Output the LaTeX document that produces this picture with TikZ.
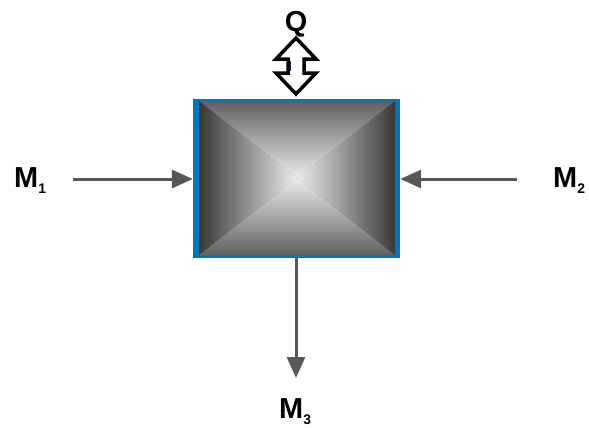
\documentclass[tikz,border=0pt]{standalone}
\usepackage{fontspec}
\setmainfont{Liberation Sans}
\usetikzlibrary{arrows.meta}

\definecolor{flowgray}{RGB}{88,88,88}
\definecolor{wallblue}{RGB}{0,118,192}
\definecolor{darkedge}{RGB}{58,56,55}
\definecolor{midtone}{RGB}{118,118,118}
\definecolor{lightcore}{RGB}{236,236,236}

\tikzset{
  flow/.style={draw=flowgray, line width=3bp, -{Triangle[length=21bp,width=18bp]}},
  streamlabel/.style={font=\fontsize{29}{30}\selectfont\bfseries, inner sep=0pt, anchor=base west},
}
\newcommand{\sublabel}[2]{#1\raisebox{-6bp}{\fontsize{14}{14}\selectfont #2}}

\begin{document}
\begin{tikzpicture}[x=1bp,y=-1bp]

\useasboundingbox (0,0) rectangle (589,427);

% Vessel
\node[fill=wallblue, minimum width=207bp, minimum height=159bp, inner sep=0pt]
  (box) at (296.5,178.5) {};
\coordinate (tl) at (199,101);
\coordinate (tr) at (395,101);
\coordinate (br) at (395,255);
\coordinate (bl) at (199,255);
\coordinate (core) at (297,178);
\shade[top color=darkedge!80!white, middle color=midtone!90!white, bottom color=lightcore] (tl) -- (tr) -- (core) -- cycle;
\shade[bottom color=darkedge!80!white, middle color=midtone!90!white, top color=lightcore] (bl) -- (br) -- (core) -- cycle;
\shade[left color=darkedge, middle color=midtone, right color=lightcore] (tl) -- (bl) -- (core) -- cycle;
\shade[right color=darkedge, middle color=midtone, left color=lightcore] (tr) -- (br) -- (core) -- cycle;

% Stream labels
\node[streamlabel] (m1) at (14,187) {\sublabel{M}{1}};
\node[streamlabel] (m2) at (553,187) {\sublabel{M}{2}};
\node[streamlabel] (m3) at (279,418) {\sublabel{M}{3}};
\node[font=\fontsize{29}{30}\selectfont\bfseries, inner sep=0pt, anchor=base] (q) at (296,31) {Q};

% Streams
\coordinate (in1) at (73,179);
\coordinate (in2) at (517,179);
\coordinate (out3) at (296,378);
\draw[flow] (in1) -- (box.west |- in1);
\draw[flow] (in2) -- (box.east |- in2);
\draw[flow] (box.south -| out3) -- (out3);

% Heat exchange
\draw[line width=3.5bp, fill=white, line join=miter]
  (296,38) -- (316,59) -- (304,59) -- (304,73) -- (316,73) -- (296,94)
  -- (276,73) -- (288,73) -- (288,59) -- (276,59) -- cycle;
\draw[line width=1.5bp, draw={rgb,255:red,40;green,30;blue,110}]
  (290.5,61) -- (290.5,71);

\end{tikzpicture}
\end{document}
